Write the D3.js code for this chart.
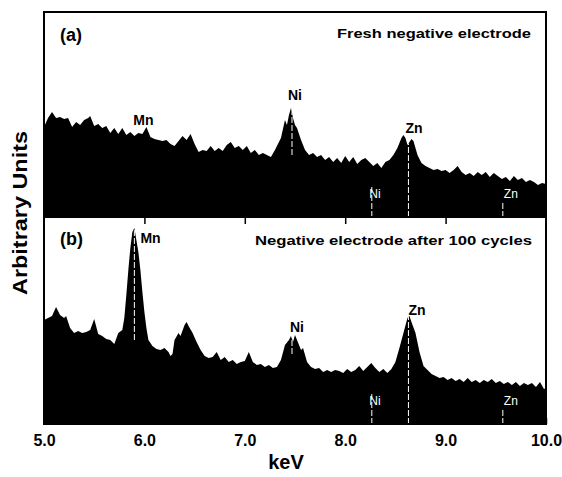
<!DOCTYPE html>
<html>
<head>
<meta charset="utf-8">
<script src="https://cdn.jsdelivr.net/npm/d3@7"></script>
<style>
  body { margin: 0; background: #fff; }
  svg text { font-family: "Liberation Sans", Arial, Helvetica, sans-serif; }
  .bold { font-weight: bold; fill: #000; }
  .axis path { display: none; }
  .axis line { stroke: #000; stroke-width: 1.5; }
  .axis text { font-size: 16px; font-weight: bold; fill: #000; }
  .marker { stroke: #fff; stroke-width: 1; stroke-dasharray: 6,2; }
  .mlabel { font-size: 12px; fill: #fff; }
</style>
</head>
<body>
<div class="chart"></div>
<script>
// (a) fresh negative electrode
var energyTop = [5.00,5.04,5.08,5.12,5.16,5.20,5.24,5.28,5.32,5.36,5.40,5.44,5.46,5.50,5.54,5.58,5.62,5.66,5.70,5.74,
  5.78,5.82,5.86,5.90,5.94,5.98,6.02,6.06,6.10,6.14,6.18,6.22,6.26,6.30,6.34,6.38,6.42,6.46,6.50,6.54,
  6.58,6.62,6.66,6.70,6.74,6.78,6.82,6.86,6.90,6.94,6.98,7.02,7.06,7.10,7.14,7.18,7.22,7.26,7.30,7.34,
  7.36,7.40,7.42,7.44,7.46,7.48,7.50,7.52,7.56,7.60,7.64,7.68,7.72,7.76,7.80,7.84,7.88,7.92,7.96,8.00,
  8.04,8.08,8.12,8.16,8.20,8.24,8.28,8.32,8.36,8.40,8.44,8.48,8.52,8.56,8.58,8.60,8.62,8.64,8.66,8.68,
  8.72,8.76,8.80,8.84,8.88,8.92,8.96,9.00,9.04,9.08,9.12,9.16,9.20,9.24,9.28,9.32,9.36,9.40,9.44,9.48,
  9.52,9.56,9.60,9.64,9.68,9.72,9.76,9.80,9.84,9.88,9.92,9.96,10.00];
var countsTop = [90,99,105,99,100,98,99,90,95,92,97,99,101,91,93,89,91,84,89,83,
  89,82,85,81,84,83,90,80,78,77,76,77,73,71,76,81,77,83,73,65,
  67,66,71,66,69,66,72,75,69,71,67,71,64,67,62,64,62,60,67,75,
  79,97,92,102,109,99,92,89,77,67,62,64,60,62,57,60,55,59,54,61,
  55,60,53,57,59,55,51,54,49,55,57,62,69,79,82,79,72,75,78,76,
  62,54,51,49,47,48,46,47,44,47,51,45,42,44,41,45,42,45,40,44,
  41,38,40,36,41,37,39,35,37,35,32,34,33];

// (b) negative electrode after 100 cycles
var energyBottom = [5.00,5.04,5.08,5.12,5.16,5.20,5.22,5.26,5.30,5.34,5.38,5.42,5.46,5.50,5.54,5.58,5.62,5.66,5.70,5.74,
  5.78,5.80,5.82,5.84,5.86,5.88,5.90,5.92,5.94,5.96,5.98,6.00,6.02,6.04,6.08,6.12,6.16,6.20,6.24,6.26,
  6.28,6.30,6.34,6.36,6.40,6.42,6.44,6.48,6.52,6.56,6.60,6.64,6.68,6.72,6.76,6.80,6.84,6.88,6.92,6.96,
  7.00,7.04,7.08,7.12,7.16,7.20,7.24,7.28,7.32,7.36,7.40,7.44,7.46,7.48,7.50,7.52,7.56,7.58,7.62,7.66,
  7.70,7.74,7.78,7.82,7.86,7.90,7.94,7.98,8.02,8.06,8.10,8.14,8.18,8.22,8.26,8.30,8.34,8.38,8.42,8.46,
  8.50,8.54,8.58,8.62,8.64,8.66,8.70,8.74,8.78,8.82,8.86,8.90,8.94,8.98,9.02,9.06,9.10,9.14,9.18,9.22,
  9.26,9.30,9.34,9.38,9.42,9.46,9.50,9.54,9.58,9.62,9.66,9.70,9.74,9.78,9.82,9.86,9.90,9.94,9.98,10.00];
var countsBottom = [104,106,108,117,109,106,108,96,91,93,91,92,94,105,90,88,85,84,80,91,
  94,106,129,154,176,192,196,184,172,154,132,112,96,84,78,75,74,76,72,68,
  70,84,91,88,99,102,98,91,82,74,68,66,67,72,64,67,62,64,60,62,
  63,72,62,59,60,57,59,56,57,64,79,84,88,82,89,84,74,76,62,57,
  55,56,52,54,52,54,53,51,55,52,54,58,53,57,61,56,52,55,51,55,
  62,76,91,106,108,102,91,72,58,54,50,48,46,47,44,46,43,45,42,46,
  42,44,41,44,42,45,41,43,40,42,39,42,38,41,39,41,37,42,35,36];

// peak names and where they sit (keV, counts)
var peakNamesTop = ["Mn", "Ni", "Zn"];
var peakKeVTop = [5.89, 7.43, 8.60];
var peakLevelTop = [92, 117, 84];
var peakNamesBottom = ["Mn", "Ni", "Zn"];
var peakKeVBottom = [5.96, 7.45, 8.63];
var peakLevelBottom = [181, 92, 109];

// KLM marker lines drawn in white (keV, from, to)
var markerKeVTop = [7.47, 8.265, 8.63, 9.57];
var markerFromTop = [62, 0, 0, 0];
var markerToTop = [110, 32, 85, 15];
var markerKeVBottom = [5.90, 7.47, 8.265, 8.63, 9.57];
var markerFromBottom = [84, 70, 0, 0, 0];
var markerToBottom = [196, 90, 31, 110, 14];
var markerNames = ["Ni", "Zn"];
var markerNameKeV = [8.24, 9.58];

var xTicks = [5, 6, 7, 8, 9, 10];

var EdsSpectra = EdsSpectra || {};

EdsSpectra.Chart = (function() {
  var width = 562, height = 477;
  var left = 44, right = 546, top = 12, mid = 217, bottom = 424;

  var x = d3.scaleLinear().domain([5, 10]).range([left, right]);

  function drawPanel(svg, id, energy, counts, y, yTop, yBase, mk, names) {
    var pts = energy.map(function(e, i) { return [e, counts[i]]; });

    var area = d3.area()
      .x(function(d) { return x(d[0]); })
      .y0(yBase)
      .y1(function(d) { return y(d[1]); });

    svg.append("clipPath").attr("id", id)
      .append("path").attr("d", area(pts));

    svg.append("path")
      .attr("d", area(pts))
      .attr("fill", "#000");

    // white marker lines only show inside the black spectrum
    var g = svg.append("g").attr("clip-path", "url(#" + id + ")");
    g.selectAll("line")
      .data(mk.kev)
      .enter().append("line")
        .attr("class", "marker")
        .attr("x1", function(d) { return x(d); })
        .attr("x2", function(d) { return x(d); })
        .attr("y1", function(d, i) { return y(mk.from[i]); })
        .attr("y2", function(d, i) { return y(mk.to[i]); });

    svg.selectAll("text." + id)
      .data(names.text)
      .enter().append("text")
        .attr("class", "bold " + id)
        .attr("x", function(d, i) { return x(names.kev[i]); })
        .attr("y", function(d, i) { return y(names.level[i]); })
        .style("font-size", "14px")
        .text(function(d) { return d; });

    svg.selectAll("text.m" + id)
      .data(markerNames)
      .enter().append("text")
        .attr("class", "mlabel m" + id)
        .attr("x", function(d, i) { return x(markerNameKeV[i]); })
        .attr("y", yBase - 19)
        .text(function(d) { return d; });

    svg.append("rect")
      .attr("x", left).attr("y", yTop)
      .attr("width", right - left).attr("height", yBase - yTop)
      .attr("fill", "none")
      .attr("stroke", "#000")
      .attr("stroke-width", 2);
  }

  function drawChart() {
    var svg = d3.select(".chart").append("svg")
      .attr("width", width)
      .attr("height", height);

    var yA = d3.scaleLinear().domain([0, 205]).range([mid, top]);
    var yB = d3.scaleLinear().domain([0, 207]).range([bottom, mid]);

    drawPanel(svg, "pa", energyTop, countsTop, yA, top, mid,
      { kev: markerKeVTop, from: markerFromTop, to: markerToTop },
      { text: peakNamesTop, kev: peakKeVTop, level: peakLevelTop });

    drawPanel(svg, "pb", energyBottom, countsBottom, yB, mid, bottom,
      { kev: markerKeVBottom, from: markerFromBottom, to: markerToBottom },
      { text: peakNamesBottom, kev: peakKeVBottom, level: peakLevelBottom });

    svg.append("g")
      .attr("class", "axis")
      .attr("transform", "translate(0," + bottom + ")")
      .call(d3.axisBottom(x).tickValues(xTicks).tickFormat(d3.format(".1f"))
        .tickSizeInner(-6).tickSizeOuter(0).tickPadding(11));

    svg.append("g")
      .attr("class", "axis")
      .attr("transform", "translate(0," + mid + ")")
      .call(d3.axisBottom(x).tickValues(xTicks.slice(1, 5)).tickFormat("")
        .tickSizeInner(7).tickSizeOuter(0));

    svg.append("text").attr("class", "bold")
      .attr("x", 60).attr("y", 41)
      .style("font-size", "18px")
      .text("(a)");

    svg.append("text").attr("class", "bold")
      .attr("x", 337).attr("y", 38)
      .attr("textLength", 194).attr("lengthAdjust", "spacingAndGlyphs")
      .style("font-size", "13px")
      .text("Fresh negative electrode");

    svg.append("text").attr("class", "bold")
      .attr("x", 60).attr("y", 245)
      .style("font-size", "18px")
      .text("(b)");

    svg.append("text").attr("class", "bold")
      .attr("x", 255).attr("y", 245)
      .attr("textLength", 277).attr("lengthAdjust", "spacingAndGlyphs")
      .style("font-size", "13px")
      .text("Negative electrode after 100 cycles");

    svg.append("text").attr("class", "bold")
      .attr("x", 286).attr("y", 469)
      .attr("text-anchor", "middle")
      .style("font-size", "20px")
      .text("keV");

    svg.append("text").attr("class", "bold")
      .attr("transform", "translate(27,213) rotate(-90)")
      .attr("text-anchor", "middle")
      .attr("textLength", 164).attr("lengthAdjust", "spacingAndGlyphs")
      .style("font-size", "20px")
      .text("Arbitrary Units");
  }

  return {
    draw: function() {
      return drawChart();
    }
  };
})();

EdsSpectra.Chart.draw();
</script>
</body>
</html>
